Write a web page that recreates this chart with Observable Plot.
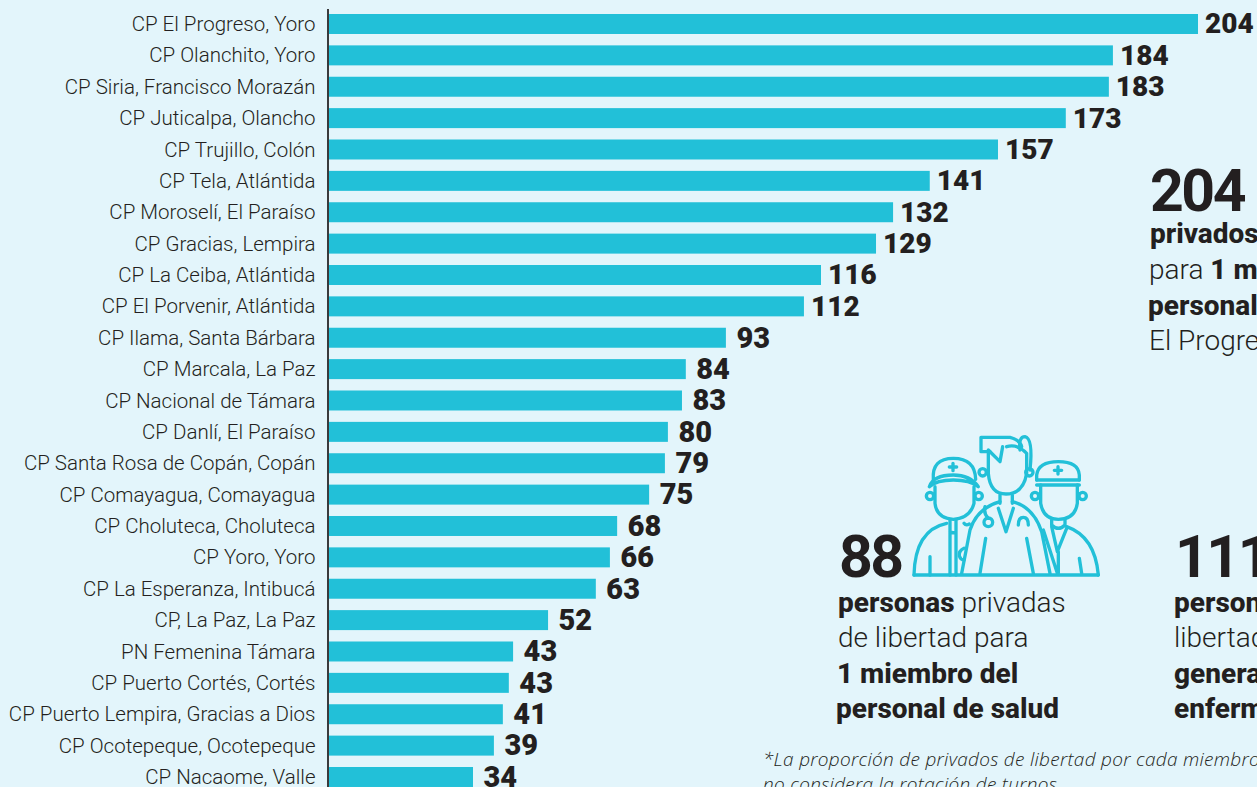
<!DOCTYPE html>
<html lang="es">
<head>
<meta charset="utf-8">
<title>Privados de libertad por miembro del personal de salud</title>
<script src="https://cdn.jsdelivr.net/npm/d3@7"></script>
<script src="https://cdn.jsdelivr.net/npm/@observablehq/plot@0.6"></script>
<style>
html,body{margin:0;padding:0;width:1257px;height:787px;overflow:hidden;background:#e3f5fb;}
#wrap{position:relative;width:1257px;height:787px;overflow:hidden;}
#wrap svg{display:block;}
#overlay,#icon{position:absolute;left:0;top:0;pointer-events:none;}
#overlay text{font-family:Roboto,sans-serif;fill:#231f20;}
.big{font-size:59px;font-weight:700;letter-spacing:-2.5px;}
.line{font-size:28px;font-weight:300;}
.b{font-weight:800;}
#overlay .note{font-family:"Open Sans",sans-serif;font-size:19px;font-style:italic;font-weight:300;letter-spacing:.3px;}
#icon path,#icon circle{fill:none;stroke:#22c0d8;stroke-width:10;stroke-linecap:round;stroke-linejoin:round;}
</style>
</head>
<body>
<div id="wrap"></div>
<script>
const centros = ["CP El Progreso, Yoro","CP Olanchito, Yoro","CP Siria, Francisco Morazán","CP Juticalpa, Olancho","CP Trujillo, Colón","CP Tela, Atlántida","CP Moroselí, El Paraíso","CP Gracias, Lempira","CP La Ceiba, Atlántida","CP El Porvenir, Atlántida","CP Ilama, Santa Bárbara","CP Marcala, La Paz","CP Nacional de Támara","CP Danlí, El Paraíso","CP Santa Rosa de Copán, Copán","CP Comayagua, Comayagua","CP Choluteca, Choluteca","CP Yoro, Yoro","CP La Esperanza, Intibucá","CP, La Paz, La Paz","PN Femenina Támara","CP Puerto Cortés, Cortés","CP Puerto Lempira, Gracias a Dios","CP Ocotepeque, Ocotepeque","CP Nacaome, Valle"];
const privados = [204,184,183,173,157,141,132,129,116,112,93,84,83,80,79,75,68,66,63,52,43,43,41,39,34];
const longitudes = [204,184.05,183.1,173,157.1,141.1,132.5,128.5,115.6,111.6,93.3,83.9,83,79.7,79,75.3,67.8,66.1,62.8,51.6,43.4,42.4,41,38.9,34];
const filas = centros.map((centro,i)=>({centro,valor:privados[i],largo:longitudes[i]}));
const tresCifras = filas.filter(d=>d.valor>=100);
const dosCifras = filas.filter(d=>d.valor<100);

const chart = Plot.plot({
  width:1257,height:787,
  marginLeft:328,marginRight:59,marginTop:9,marginBottom:0,
  style:{background:"transparent",fontFamily:"Roboto, sans-serif"},
  x:{domain:[0,204],axis:null},
  y:{domain:centros,range:[2.61,798.37],padding:0.363,align:0.5,round:false,label:null,axis:null},
  marks:[
    Plot.barX(filas,{x:"largo",y:"centro",fill:"#22c0d8"}),
    Plot.ruleX([0],{dx:-0.5,stroke:"#3a3a3c",strokeWidth:2}),
    Plot.axisY({anchor:"left",tickSize:0,tickPadding:13,fontSize:20.5,fontWeight:350,color:"#231f20",label:null}),
    Plot.text(tresCifras,{x:"largo",y:"centro",text:"valor",dx:6.5,textAnchor:"start",fontSize:28,fontWeight:900,fill:"#231f20"}),
    Plot.text(dosCifras,{x:"largo",y:"centro",text:"valor",dx:10,textAnchor:"start",fontSize:29,fontWeight:900,fill:"#231f20"})
  ]
});
const wrap=document.getElementById("wrap");
wrap.appendChild(chart);

const texto = `<svg id="overlay" width="1257" height="787" xmlns="http://www.w3.org/2000/svg">
<text class="big" x="1150" y="211">204</text>
<text class="line" x="1150" y="243"><tspan class="b">privados de libertad</tspan></text>
<text class="line" x="1149" y="279">para <tspan class="b">1 miembro del</tspan></text>
<text class="line" x="1148" y="315"><tspan class="b">personal de salud en</tspan></text>
<text class="line" x="1149" y="350">El Progreso</text>
<text class="big" x="839" y="577">88</text>
<text class="line" x="838" y="612"><tspan class="b">personas</tspan> privadas</text>
<text class="line" x="838" y="647">de libertad para</text>
<text class="line b" x="837" y="683">1 miembro del</text>
<text class="line b" x="836" y="718">personal de salud</text>
<text class="big" x="1175" y="577">111</text>
<text class="line" x="1174" y="612"><tspan class="b">personas</tspan> privadas de</text>
<text class="line" x="1174" y="647">libertad para 1 médico</text>
<text class="line b" x="1174" y="683">general o</text>
<text class="line b" x="1174" y="718">enfermera</text>
<text class="note" x="763" y="766">*La proporción de privados de libertad por cada miembro del personal</text>
<text class="note" x="763" y="791">no considera la rotación de turnos</text>
</svg>`;
wrap.insertAdjacentHTML("beforeend",texto);

const icono = `<svg id="icon" style="left:820px;top:420px" width="437" height="367" viewBox="0 0 1311 1101" xmlns="http://www.w3.org/2000/svg">
<path d="M282 465H835"/>
<path d="M340 178Q335 115 400 115Q465 115 467 178"/>
<path d="M328 200Q340 165 400 165Q450 165 475 200Q450 180 400 180Q350 180 328 200"/>
<path d="M345 200V250Q350 295 400 298Q450 295 462 250V200"/>
<circle cx="330" cy="228" r="11"/><circle cx="476" cy="228" r="11"/>
<path d="M399 130V152M388 141H410"/>
<path d="M282 465Q285 330 380 310"/>
<path d="M390 300V465M408 300V465M390 335Q400 342 408 335"/>
<path d="M330 410V465"/>
<path d="M432 385Q416 392 418 408Q422 420 432 420"/>
<path d="M432 310Q438 318 448 312"/>
<path d="M510 95H483V52H570Q600 60 605 80"/>
<path d="M600 90Q595 50 615 50Q640 55 630 150"/>
<path d="M505 100V160Q510 222 558 222Q610 222 620 160V100Q590 70 560 80"/>
<path d="M505 90L540 125L548 80"/>
<circle cx="488" cy="157" r="11"/><circle cx="628" cy="157" r="11"/>
<path d="M540 225V250M577 225V250"/>
<path d="M535 265L558 335L580 265"/>
<path d="M425 460L450 330Q470 265 540 245"/>
<path d="M577 245Q640 260 665 335L690 460"/>
<path d="M497 355L480 460M620 355L640 460"/>
<path d="M495 260Q490 280 505 295"/><circle cx="505" cy="307" r="13"/>
<path d="M595 315Q595 292 610 292Q625 292 625 315"/>
<path d="M650 180V165Q655 125 715 125Q775 125 778 165V180"/>
<path d="M650 180H778M650 195H778"/>
<path d="M714 140V162M703 151H725"/>
<path d="M662 195V250Q670 298 715 298Q765 298 772 250V195"/>
<circle cx="645" cy="228" r="11"/><circle cx="788" cy="228" r="11"/>
<path d="M835 465Q825 350 740 320"/>
<path d="M695 320L712 395L740 325"/>
<path d="M695 300V315Q715 335 735 315V300"/>
<path d="M670 330L712 460M715 395V460M778 415L785 460"/>
</svg>`;
wrap.insertAdjacentHTML("beforeend",icono);
</script>
</body>
</html>
